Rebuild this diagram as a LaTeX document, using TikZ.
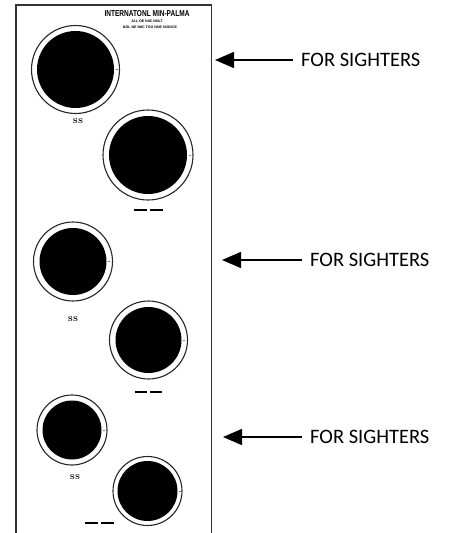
\documentclass[tikz,border=0pt]{standalone}
\usepackage{fontspec}
\newfontfamily\sightfont{Carlito}
\newfontfamily\headfont{Liberation Sans}
\usetikzlibrary{arrows.meta}

\begin{document}
\begin{tikzpicture}[x=1pt,y=-1pt]
\useasboundingbox (0,0) rectangle (448,533);

\draw[line width=1.3pt,color=black!80] (16,533) -- (16,5) -- (211.5,5) -- (211.5,533); % Board outline

\node [draw=none,inner sep=0pt] (title) at (147,14) {\scalebox{0.76}[1]{\headfont\bfseries\fontsize{8.6}{8.6}\selectfont INTERNATONL MIN-PALMA}};
\node [draw=none,inner sep=0pt] (sub1) at (147,21) {\headfont\bfseries\fontsize{3.6}{3.6}\selectfont JAL OE NIIC NNLT};
\node [draw=none,inner sep=0pt] (sub2) at (150,27) {\headfont\bfseries\fontsize{3.6}{3.6}\selectfont NOL NE NIIC TOO NNE NIONCE};

\foreach \cx/\cy/\ro/\rd in {75.5/69.5/44/38.5, 148/155/45/39, 73/261.5/39.5/33.5, 148.5/340/39/33, 72/430/35/29.5, 147.5/491/34.5/30}{
    \draw[line width=1.1pt,color=black!85] (\cx,\cy) circle (\ro pt);
    \fill (\cx,\cy) circle (\rd pt);
    \draw[line width=0.5pt,color=black!50] (\cx+\rd+1.5,\cy) -- +(2,0);
}

\node [draw=none] (ss1) at (78,121) {\fontsize{7}{7}\selectfont\bfseries SS};
\node [draw=none] (ss2) at (73,319) {\fontsize{7}{7}\selectfont\bfseries SS};
\node [draw=none] (ss3) at (75,477) {\fontsize{7}{7}\selectfont\bfseries SS};

\node [draw=none] (num1) at (148,210) {\rule{13pt}{1.3pt}\hspace{3pt}\rule{13pt}{1.3pt}};
\node [draw=none] (num2) at (148,392) {\rule{12pt}{1.3pt}\hspace{3pt}\rule{12pt}{1.3pt}};
\node [draw=none] (num3) at (99,523) {\rule{13pt}{1.3pt}\hspace{3pt}\rule{13pt}{1.3pt}};

\foreach \n/\tx/\ty/\lx in {1/215/60/293, 2/222/260/302, 3/223/437/302}{
    \node [draw=none,anchor=west,inner xsep=8pt,font=\sightfont\fontsize{20.5}{20.5}\selectfont] (sight\n) at (\lx,\ty) {FOR SIGHTERS};
    \coordinate (tip\n) at (\tx,\ty);
    \draw[line width=1.5pt,-{Triangle[length=19pt,width=16pt]}] (sight\n.west) -- (tip\n); % Pointer
}

\end{tikzpicture}
\end{document}
